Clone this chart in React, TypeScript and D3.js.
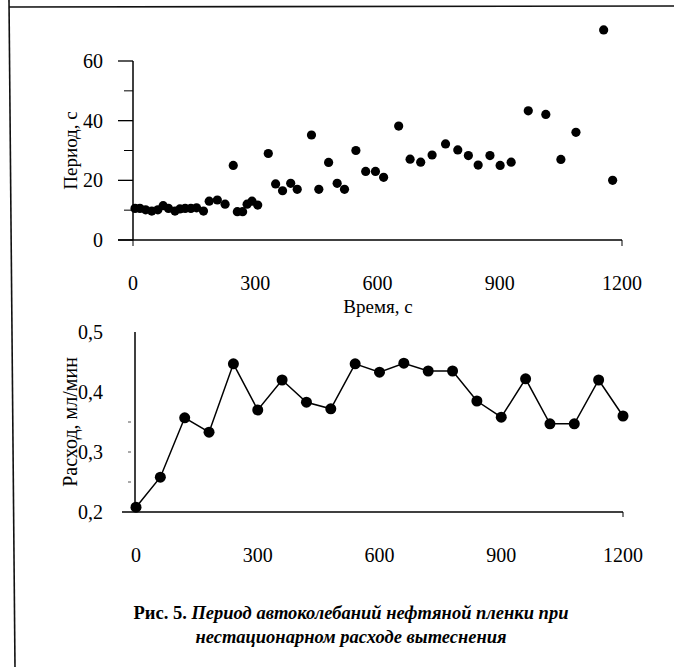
import React, { useEffect, useRef } from "react";
import * as d3 from "d3";

// верхний график: период автоколебаний
const periodTime = [
  5, 17, 31, 46, 61, 74, 87, 103, 115, 128, 142, 156, 173, 187, 207, 226, 246,
  256, 269, 280, 292, 306, 332, 350, 367, 387, 403, 438, 456, 480, 501, 519,
  547, 571, 595, 615, 652, 680, 706, 734, 767, 797, 823, 847, 876, 901, 928,
  970, 1013, 1050, 1087, 1155, 1177,
];
const periodValue = [
  10.6, 10.6, 10.1, 9.7, 10.1, 11.5, 10.6, 9.7, 10.4, 10.6, 10.6, 10.8, 9.7,
  13, 13.4, 12, 25, 9.5, 9.5, 12, 13, 11.7, 29, 18.8, 16.5, 19, 17, 35.2, 17,
  26, 19, 17, 30, 23, 23, 21, 38.2, 27.1, 26.1, 28.5, 32.2, 30.2, 28.3, 25.1,
  28.3, 25, 26.1, 43.3, 42.1, 27, 36.1, 70.4, 20,
];

// нижний график: расход
const flowTime = [
  0, 60, 120, 180, 240, 300, 360, 420, 480, 540, 600, 660, 720, 780, 840, 900,
  960, 1020, 1080, 1140, 1200,
];
const flowValue = [
  0.208, 0.258, 0.357, 0.333, 0.447, 0.37, 0.42, 0.383, 0.372, 0.447, 0.433,
  0.448, 0.435, 0.435, 0.385, 0.358, 0.422, 0.347, 0.347, 0.42, 0.36,
];

const timeTicks = [0, 300, 600, 900, 1200];
const periodTicks = [0, 20, 40, 60];
const periodMinor = [10, 30, 50];
const flowTicks = [0.2, 0.3, 0.4, 0.5];
const flowTickLabels = ["0,2", "0,3", "0,4", "0,5"];
const flowMinor = [0.25, 0.3, 0.35];

const font = "'Liberation Serif', 'Times New Roman', serif";

export default function App() {
  const ref = useRef<SVGSVGElement>(null);

  useEffect(() => {
    const svg = d3.select(ref.current);
    svg.selectAll("*").remove();

    // рамка
    svg.append("line").attr("x1", 9).attr("y1", 0).attr("x2", 15).attr("y2", 667)
      .attr("stroke", "#111").attr("stroke-width", 1.6);
    svg.append("line").attr("x1", 9).attr("y1", 7).attr("x2", 674).attr("y2", 6)
      .attr("stroke", "#111").attr("stroke-width", 1.6);

    // ---- верхний график ----
    const xTop = d3.scaleLinear().domain([0, 1200]).range([133, 622]);
    const yTop = d3.scaleLinear().domain([0, 60]).range([240, 61]);
    const top = svg.append("g");

    top.append("line").attr("x1", 118).attr("x2", xTop(1200))
      .attr("y1", yTop(0)).attr("y2", yTop(0)).attr("stroke", "#000").attr("stroke-width", 1.5);
    top.append("line").attr("x1", xTop(0)).attr("x2", xTop(0))
      .attr("y1", yTop(60)).attr("y2", yTop(0)).attr("stroke", "#000").attr("stroke-width", 1.5);

    top.selectAll(".maj").data(periodTicks).join("line")
      .attr("x1", 118).attr("x2", xTop(0))
      .attr("y1", (d) => yTop(d)).attr("y2", (d) => yTop(d))
      .attr("stroke", "#000").attr("stroke-width", 1.3);
    top.selectAll(".min").data(periodMinor).join("line")
      .attr("x1", 124).attr("x2", xTop(0))
      .attr("y1", (d) => yTop(d)).attr("y2", (d) => yTop(d))
      .attr("stroke", "#000").attr("stroke-width", 1);
    top.selectAll(".ylab").data(periodTicks).join("text")
      .attr("x", 103).attr("y", (d) => yTop(d) + 7)
      .attr("text-anchor", "end").attr("font-size", 20).attr("font-family", font)
      .text((d) => d);

    top.selectAll(".xt").data([0, 1200]).join("line")
      .attr("x1", (d) => xTop(d)).attr("x2", (d) => xTop(d))
      .attr("y1", yTop(0)).attr("y2", yTop(0) + 6)
      .attr("stroke", "#000").attr("stroke-width", 1);
    top.selectAll(".xlab").data(timeTicks).join("text")
      .attr("x", (d) => xTop(d)).attr("y", 290)
      .attr("text-anchor", "middle").attr("font-size", 20).attr("font-family", font)
      .text((d) => d);
    top.append("text").attr("x", 378).attr("y", 313)
      .attr("text-anchor", "middle").attr("font-size", 19).attr("font-family", font)
      .text("Время, с");
    top.append("text")
      .attr("transform", `translate(77, ${(yTop(60) + yTop(0)) / 2}) rotate(-90)`)
      .attr("text-anchor", "middle").attr("font-size", 19).attr("font-family", font)
      .text("Период, с");

    top.selectAll(".pt").data(periodTime).join("circle")
      .attr("cx", (d) => xTop(d))
      .attr("cy", (d, i) => yTop(periodValue[i]))
      .attr("r", 4.6).attr("fill", "#000");

    // ---- нижний график ----
    const xBot = d3.scaleLinear().domain([0, 1200]).range([136, 623]);
    const yBot = d3.scaleLinear().domain([0.2, 0.5]).range([512, 332]);
    const bot = svg.append("g");

    bot.append("line").attr("x1", 122).attr("x2", xBot(1200))
      .attr("y1", yBot(0.2)).attr("y2", yBot(0.2)).attr("stroke", "#000").attr("stroke-width", 1.5);
    bot.append("line").attr("x1", xBot(0) - 1).attr("x2", xBot(0) - 1)
      .attr("y1", yBot(0.5)).attr("y2", yBot(0.2)).attr("stroke", "#000").attr("stroke-width", 1.5);
    bot.selectAll(".min").data(flowMinor).join("line")
      .attr("x1", 128).attr("x2", 131)
      .attr("y1", (d) => yBot(d)).attr("y2", (d) => yBot(d))
      .attr("stroke", "#555").attr("stroke-width", 1);
    bot.append("line").attr("x1", xBot(1200)).attr("x2", xBot(1200))
      .attr("y1", yBot(0.2)).attr("y2", yBot(0.2) + 5).attr("stroke", "#000").attr("stroke-width", 1);

    bot.selectAll(".ylab").data(flowTicks).join("text")
      .attr("x", 103).attr("y", (d) => yBot(d) + 7)
      .attr("text-anchor", "end").attr("font-size", 20).attr("font-family", font)
      .text((d, i) => flowTickLabels[i]);
    bot.selectAll(".xlab").data(timeTicks).join("text")
      .attr("x", (d) => xBot(d)).attr("y", 562)
      .attr("text-anchor", "middle").attr("font-size", 20).attr("font-family", font)
      .text((d) => d);
    bot.append("text")
      .attr("transform", `translate(77, ${(yBot(0.5) + yBot(0.2)) / 2}) rotate(-90)`)
      .attr("text-anchor", "middle").attr("font-size", 20).attr("font-family", font)
      .text("Расход, мл/мин");

    const line = d3.line<number>()
      .x((d) => xBot(d))
      .y((d, i) => yBot(flowValue[i]));
    bot.append("path").attr("d", line(flowTime))
      .attr("fill", "none").attr("stroke", "#000").attr("stroke-width", 1.5);
    bot.selectAll(".pt").data(flowTime).join("circle")
      .attr("cx", (d) => xBot(d))
      .attr("cy", (d, i) => yBot(flowValue[i]))
      .attr("r", 5.5).attr("fill", "#000");

    // подпись
    const cap = svg.append("text").attr("x", 351).attr("y", 619)
      .attr("text-anchor", "middle").attr("font-size", 18.5).attr("font-family", font)
      .attr("font-weight", "bold");
    cap.append("tspan").text("Рис. 5. ");
    cap.append("tspan").attr("font-style", "italic")
      .text("Период автоколебаний нефтяной пленки при");
    svg.append("text").attr("x", 351).attr("y", 643)
      .attr("text-anchor", "middle").attr("font-size", 18.5).attr("font-family", font)
      .attr("font-weight", "bold").attr("font-style", "italic")
      .text("нестационарном расходе вытеснения");
  }, []);

  return (
    <svg
      ref={ref}
      width={674}
      height={667}
      style={{ position: "absolute", left: 0, top: 0, background: "#fff" }}
    ></svg>
  );
}
